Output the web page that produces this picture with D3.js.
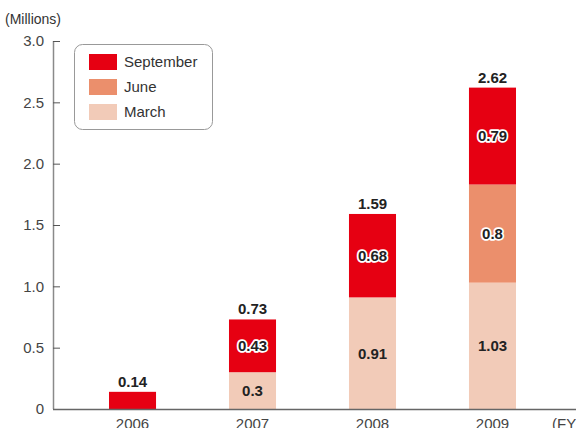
<!DOCTYPE html>
<html>
<head>
<meta charset="utf-8">
<script src="https://cdn.jsdelivr.net/npm/d3@7"></script>
<style>
  body { margin: 0; background: #fff; }
  svg { display: block; font-family: "Liberation Sans", Arial, sans-serif; }
</style>
</head>
<body>
<svg id="chart" width="576" height="428"></svg>
<script>
const years = ['2006', '2007', '2008', '2009']
const march = [0, 0.3, 0.91, 1.03]
const june = [0, 0, 0, 0.8]
const september = [0.14, 0.43, 0.68, 0.79]
const totals = [0.14, 0.73, 1.59, 2.62]
const yTicks = [0, 0.5, 1.0, 1.5, 2.0, 2.5, 3.0]

const seriesKeys = ['March', 'June', 'September']
const colors = { March: '#f2cbb8', June: '#eb8f6c', September: '#e60012' }

const rows = years.map((y, i) => ({ year: y, March: march[i], June: june[i], September: september[i], total: totals[i] }))

const svg = d3.select('#chart')

const x = d3.scaleBand()
  .domain(years)
  .range([49, 576])
  .paddingInner(0.608)
  .paddingOuter(0.5)

const y = d3.scaleLinear()
  .domain([0, 3])
  .range([409, 41])

// y axis
const yAxis = svg.append('g')
  .attr('transform', 'translate(53,0)')
  .call(d3.axisRight(y).tickValues(yTicks).tickSize(7).tickFormat(d => d === 0 ? '0' : d3.format('.1f')(d)))
yAxis.select('.domain').attr('stroke', '#8a8a8a').attr('stroke-width', 1.5).attr('d', `M0.5,${y(3)}V${y(0)}`)
yAxis.selectAll('.tick line').attr('stroke', '#555').attr('stroke-width', 1)
yAxis.selectAll('.tick text')
  .attr('x', -9)
  .attr('text-anchor', 'end')
  .attr('fill', '#444')
  .style('font-size', '15px')

svg.append('text')
  .attr('x', 5).attr('y', 24)
  .attr('fill', '#333')
  .style('font-size', '14px')
  .text('(Millions)')

// stacked bars
const stacked = d3.stack().keys(seriesKeys)(rows)

const layers = svg.append('g').selectAll('g')
  .data(stacked)
  .join('g')
  .attr('fill', d => colors[d.key])

layers.selectAll('rect')
  .data(d => d.map(p => ({ key: d.key, p })))
  .join('rect')
  .attr('x', d => x(d.p.data.year))
  .attr('width', x.bandwidth())
  .attr('y', d => y(d.p[1]))
  .attr('height', d => y(d.p[0]) - y(d.p[1]))

// x axis baseline
svg.append('line')
  .attr('x1', 53).attr('x2', 576)
  .attr('y1', y(0) + 0.5).attr('y2', y(0) + 0.5)
  .attr('stroke', '#666').attr('stroke-width', 1.5)

// inner labels
const innerLabels = []
stacked.forEach(layer => {
  layer.forEach(p => {
    const v = p.data[layer.key]
    const count = seriesKeys.filter(k => p.data[k] > 0).length
    if (v > 0 && count > 1) innerLabels.push({ key: layer.key, v, mid: (p[0] + p[1]) / 2, year: p.data.year })
  })
})

svg.append('g').selectAll('text')
  .data(innerLabels)
  .join('text')
  .attr('x', d => x(d.year) + x.bandwidth() / 2)
  .attr('y', d => y(d.mid))
  .attr('dy', '0.36em')
  .attr('text-anchor', 'middle')
  .attr('fill', '#222')
  .attr('stroke', d => d.key === 'March' ? 'none' : '#fff')
  .attr('stroke-width', 3.5)
  .attr('stroke-linejoin', 'round')
  .attr('paint-order', 'stroke')
  .style('font-size', '15px')
  .style('font-weight', 'bold')
  .text(d => d.v)

// totals
svg.append('g').selectAll('text')
  .data(rows)
  .join('text')
  .attr('x', d => x(d.year) + x.bandwidth() / 2)
  .attr('y', d => y(d.total) - 5)
  .attr('text-anchor', 'middle')
  .attr('fill', '#222')
  .style('font-size', '15px')
  .style('font-weight', 'bold')
  .text(d => d.total)

// x labels (cut at the bottom edge as in the reference)
svg.append('g').selectAll('text')
  .data(years)
  .join('text')
  .attr('x', d => x(d) + x.bandwidth() / 2)
  .attr('y', 429)
  .attr('text-anchor', 'middle')
  .attr('fill', '#444')
  .style('font-size', '15px')
  .text(d => d)

svg.append('text')
  .attr('x', 552).attr('y', 429)
  .attr('fill', '#444')
  .style('font-size', '15px')
  .text('(FY)')

// legend
const legend = svg.append('g')
legend.append('rect')
  .attr('x', 74.5).attr('y', 44.5)
  .attr('width', 138).attr('height', 85)
  .attr('rx', 8)
  .attr('fill', '#fff')
  .attr('stroke', '#999')
  .attr('stroke-width', 1)

const legendKeys = ['September', 'June', 'March']
const items = legend.selectAll('g.item')
  .data(legendKeys)
  .join('g')
  .attr('class', 'item')
  .attr('transform', (d, i) => `translate(89,${54 + i * 25})`)
items.append('rect')
  .attr('width', 28).attr('height', 16)
  .attr('fill', d => colors[d])
items.append('text')
  .attr('x', 35).attr('y', 8).attr('dy', '0.36em')
  .attr('fill', '#333')
  .style('font-size', '15px')
  .text(d => d)
</script>
</body>
</html>
